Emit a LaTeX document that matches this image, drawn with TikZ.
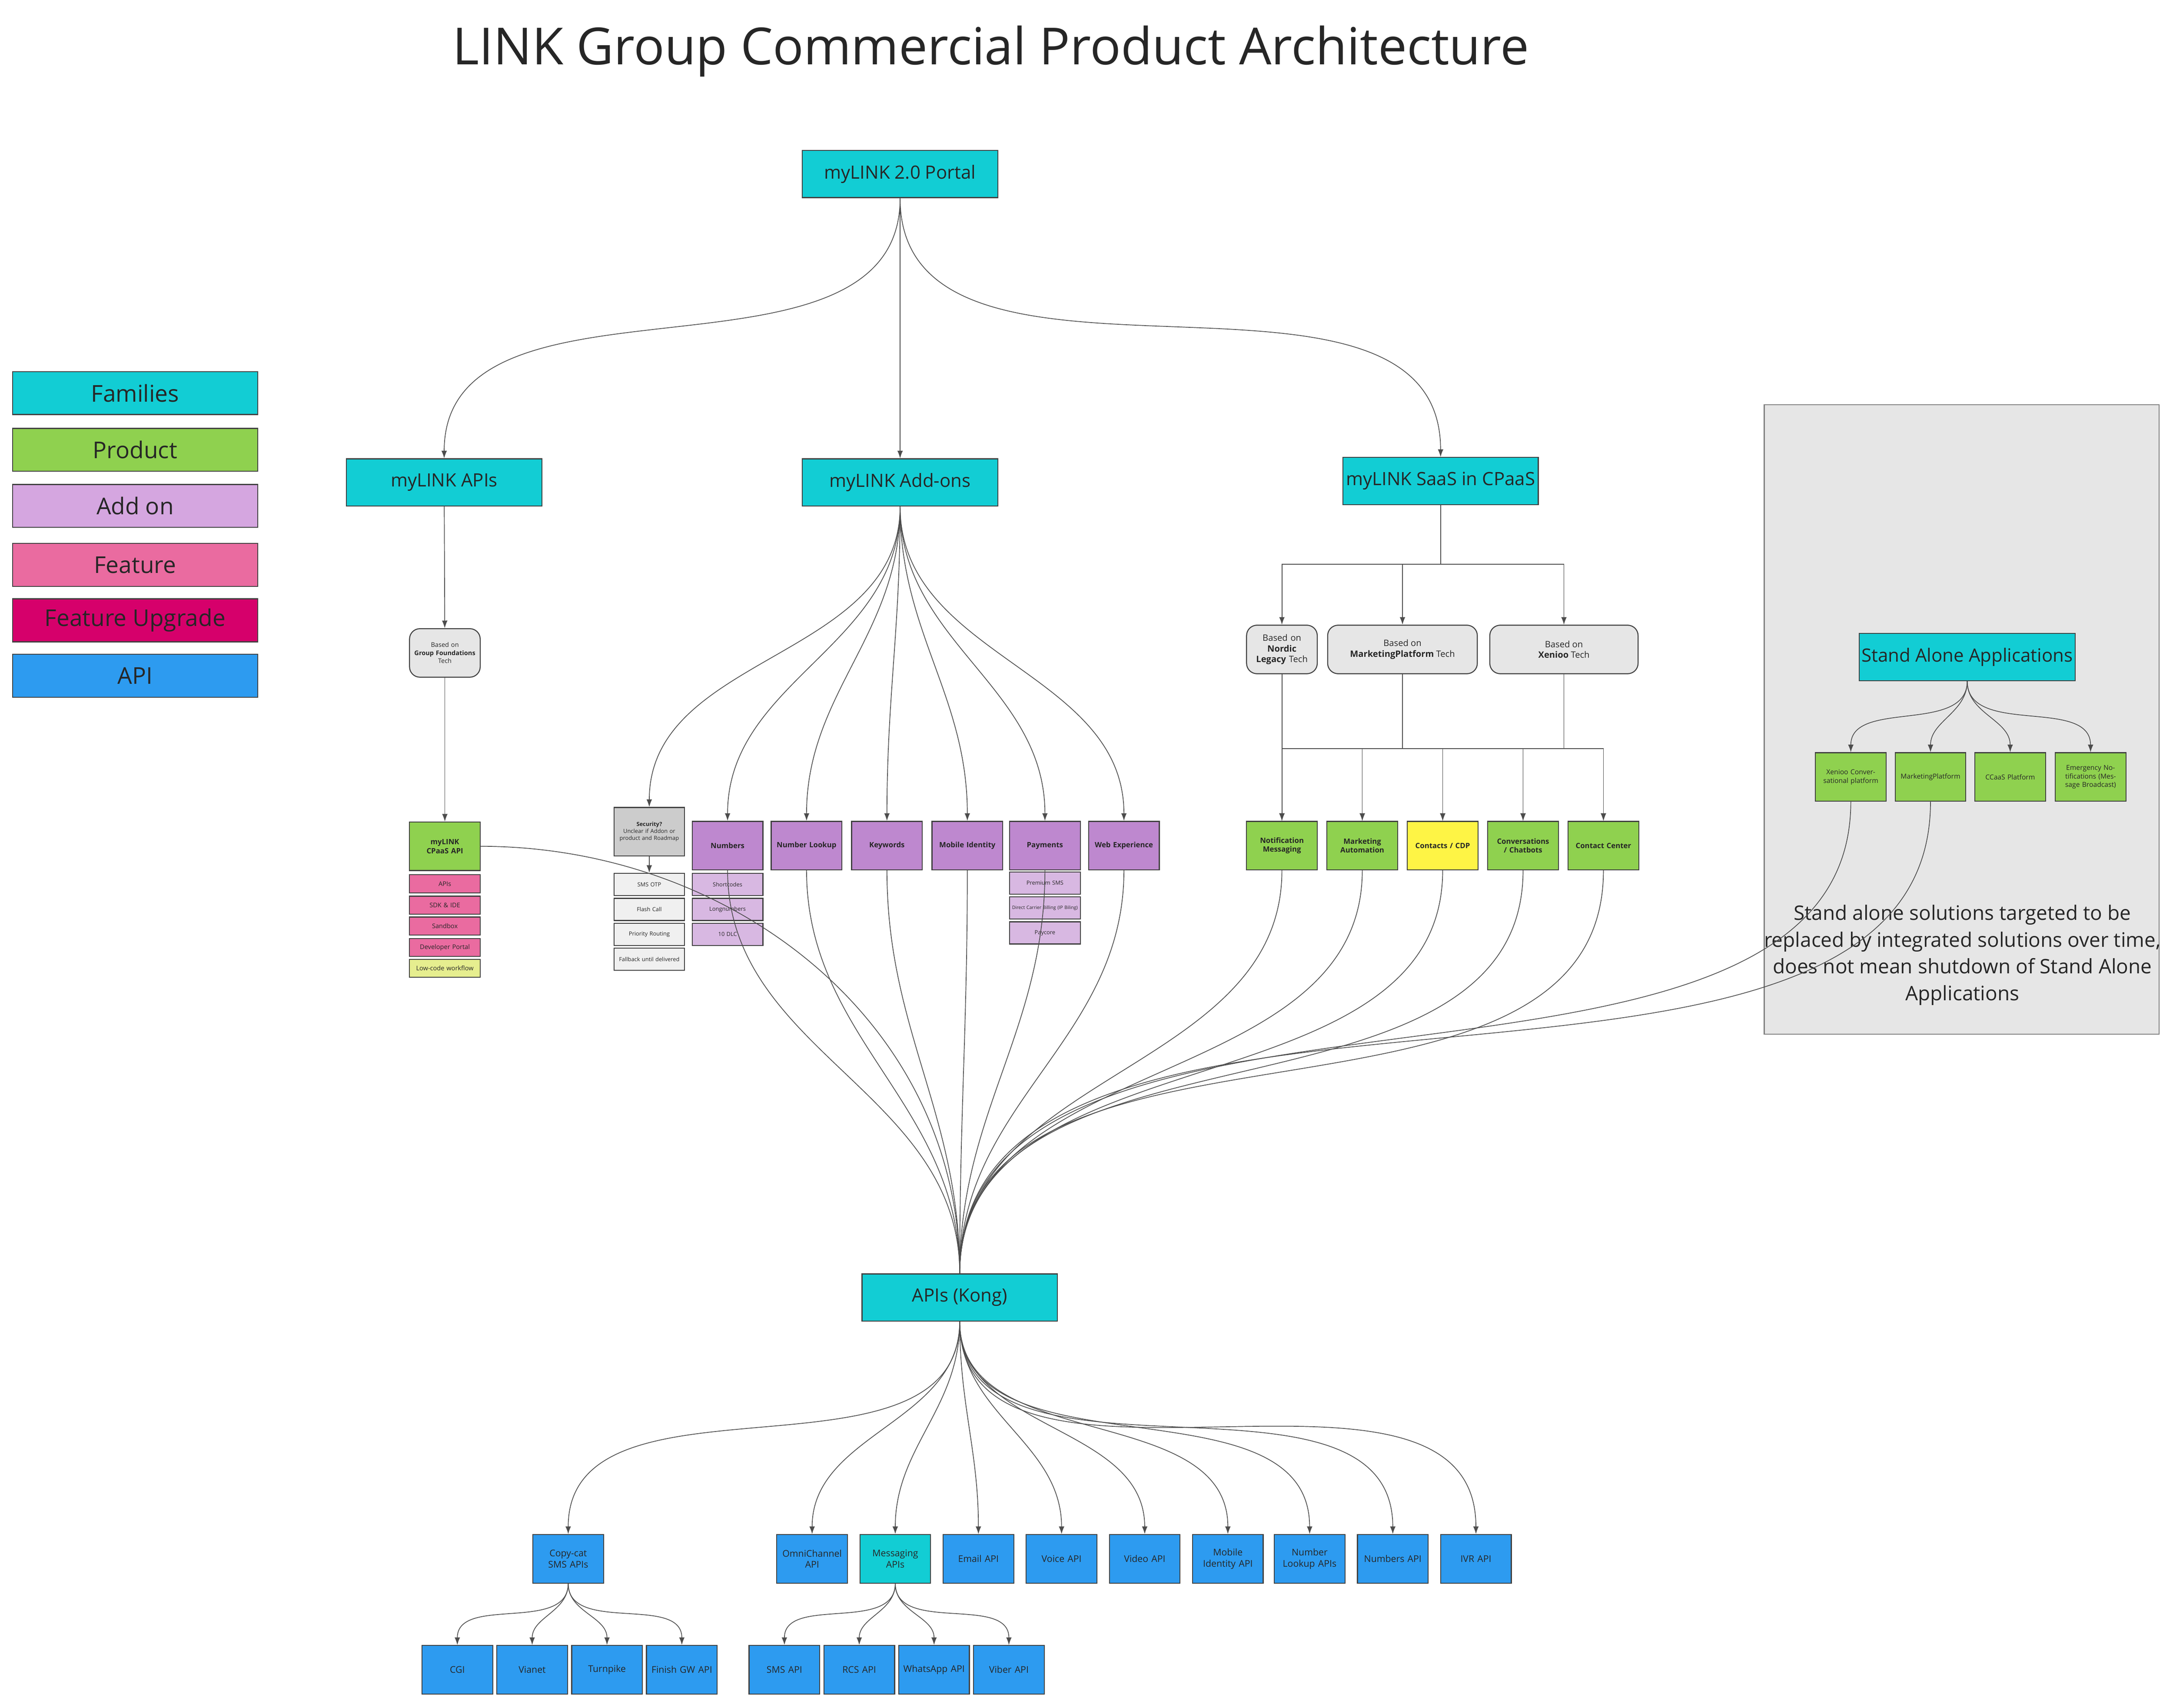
\documentclass[tikz,border=0pt]{standalone}
\usepackage{fontspec}
\setmainfont{Open Sans}
\usepackage{xcolor}
\usepackage{tikz}
\usetikzlibrary{arrows.meta, positioning}

\definecolor{famc}{HTML}{12CDD4}
\definecolor{prodc}{HTML}{8FD14F}
\definecolor{addc}{HTML}{D5A6E0}
\definecolor{purpc}{HTML}{BE88CF}
\definecolor{subpc}{HTML}{D8B8E2}
\definecolor{featc}{HTML}{EA6BA0}
\definecolor{upgc}{HTML}{D6006B}
\definecolor{apic}{HTML}{2D9BF0}
\definecolor{yelc}{HTML}{FEF445}
\definecolor{lowc}{HTML}{E6EE8F}
\definecolor{grayb}{HTML}{E6E6E6}
\definecolor{secc}{HTML}{CCCCCC}
\definecolor{subg}{HTML}{F0F0F0}

\begin{document}
\begin{tikzpicture}[x=0.02cm, y=-0.02cm, >=latex, font=\fontsize{7.5}{9}\selectfont]
		\tikzstyle{box} = [draw=black!75, line width=0.4pt, inner sep=1pt, align=center, text=black!85]
		\tikzstyle{fam} = [box, fill=famc, minimum width=2.82cm, minimum height=0.68cm]
		\tikzstyle{leg} = [box, minimum width=3.54cm, minimum height=0.62cm, font=\fontsize{9.5}{11}\selectfont]
		\tikzstyle{sq} = [box, minimum width=1cm, minimum height=0.7cm, text width=0.95cm, font=\fontsize{3}{3.7}\selectfont\bfseries]
		\tikzstyle{prod} = [sq, fill=prodc]
		\tikzstyle{addon} = [sq, fill=purpc]
		\tikzstyle{sub} = [box, minimum width=1cm, minimum height=0.32cm, text width=0.95cm, font=\fontsize{2.3}{2.8}\selectfont]
		\tikzstyle{feat} = [sub, fill=featc, minimum height=0.26cm, font=\fontsize{2.6}{3}\selectfont]
		\tikzstyle{solo} = [sq, fill=prodc, font=\fontsize{2.8}{3.5}\selectfont]
		\tikzstyle{api} = [box, fill=apic, minimum width=1cm, minimum height=0.7cm, text width=0.95cm, font=\fontsize{3.8}{4.6}\selectfont]
		\tikzstyle{based} = [box, rounded corners=0.15cm, fill=grayb, minimum height=0.7cm, font=\fontsize{3.6}{4.4}\selectfont]
		\tikzstyle{link} = [draw=black!70, line width=0.3pt]
		\tikzstyle{arrow} = [link, ->, >={Latex[length=1.1mm,width=0.8mm]}]

		\useasboundingbox (0,0) rectangle (1568,1232);

		% stand alone panel
		\node[draw=black!50, fill=grayb, minimum width=5.7cm, minimum height=9.08cm] at (1415.5,519) (panel) {};

		\node[font=\fontsize{21}{25}\selectfont, text=black!85] at (715,37) (title) {LINK Group Commercial Product Architecture};

		% legend
		\node[leg, fill=famc]	at (97.5,283.5) (lfam)	{Families};
		\node[leg, fill=prodc]	at (97.5,324.5) (lprod)	{Product};
		\node[leg, fill=addc]	at (97.5,365)	(ladd)	{Add on};
		\node[leg, fill=featc]	at (97.5,407.5) (lfeat)	{Feature};
		\node[leg, fill=upgc]	at (97.5,447.5) (lupg)	{Feature Upgrade};
		\node[leg, fill=apic]	at (97.5,487.5) (lapi)	{API};

		% families
		\node[fam] at (649.5,125.5)	(portal)	{myLINK 2.0 Portal};
		\node[fam] at (320.5,348)	(apis)		{myLINK APIs};
		\node[fam] at (649.5,348)	(addons)	{myLINK Add-ons};
		\node[fam] at (1039.5,347)	(saas)		{myLINK SaaS in CPaaS};
		\node[fam] at (692.5,936)	(kong)		{APIs (Kong)};
		\node[fam, minimum width=3.02cm] at (1419.5,474) (alone) {Stand Alone Applications};

		\draw [arrow] (portal.south) to[out=-90,in=90] (apis.north);
		\draw [arrow] (portal.south) -- (addons.north);
		\draw [arrow] (portal.south) to[out=-90,in=90] (saas.north);

		% myLINK APIs column
		\node[based, minimum width=1cm, text width=0.95cm, font=\fontsize{2.6}{3.3}\selectfont] at (321,471) (group) {Based on\\\textbf{Group Foundations}\\Tech};
		\node[prod]	at (321,610.5)	(cpaas)	{myLINK CPaaS API};
		\node[feat]	at (321,637.5)	(f1)	{APIs};
		\node[feat]	at (321,653)	(f2)	{SDK \& IDE};
		\node[feat]	at (321,668)	(f3)	{Sandbox};
		\node[feat]	at (321,683.5)	(f4)	{Developer Portal};
		\node[feat, fill=lowc] at (321,698.5) (f5) {Low-code workflow};
		\draw [arrow] (apis) -- (group);
		\draw [arrow] (group) -- (cpaas);

		% add-ons column
		\node[sq, fill=secc, font=\fontsize{2.3}{2.9}\selectfont] at (468.5,600) (sec) {\textbf{Security?}\\Unclear if Addon or product and Roadmap};
		\node[sub, fill=subg] at (468.5,638) (s1) {SMS OTP};
		\node[sub, fill=subg] at (468.5,656) (s2) {Flash Call};
		\node[sub, fill=subg] at (468.5,674) (s3) {Priority Routing};
		\node[sub, fill=subg] at (468.5,692) (s4) {Fallback until delivered};
		\draw [arrow] (sec) -- (s1);

		\node[addon] at (525,610)	(num)	{Numbers};
		\node[addon] at (582,610)	(nlk)	{Number Lookup};
		\node[addon] at (640,610)	(kw)	{Keywords};
		\node[addon] at (698,610)	(mid)	{Mobile Identity};
		\node[addon] at (754,610)	(pay)	{Payments};
		\node[addon] at (811,610)	(web)	{Web Experience};
		\node[sub, fill=subpc] at (525,638) (n1) {Shortcodes};
		\node[sub, fill=subpc] at (525,656) (n2) {Longnumbers};
		\node[sub, fill=subpc] at (525,674) (n3) {10 DLC};
		\node[sub, fill=subpc] at (754,637) (p1) {Premium SMS};
		\node[sub, fill=subpc, font=\fontsize{1.9}{2.3}\selectfont] at (754,655) (p2) {Direct Carrier Billing (IP Biling)};
		\node[sub, fill=subpc] at (754,673) (p3) {Paycore};

		\foreach \n in {sec,num,nlk,kw,mid,pay,web}
			\draw [arrow] (addons.south) to[out=-90,in=90] (\n.north);

		% SaaS column
		\node[based, minimum width=1cm, text width=0.95cm] at (925,468.5) (nordic) {Based on\\\textbf{Nordic}\\\textbf{Legacy} Tech};
		\node[based, minimum width=2.16cm] at (1012,468.5) (mkt) {Based on\\\textbf{MarketingPlatform} Tech};
		\node[based, minimum width=2.14cm] at (1128.5,468.5) (xen) {Based on\\\textbf{Xenioo} Tech};
		\coordinate (bar1) at (1039.5,407);
		\foreach \n in {nordic,mkt,xen}
			\draw [arrow] (saas.south) -- (saas.south |- bar1) -| (\n.north);

		\node[prod] at (925,610)	(notif)	{Notification Messaging};
		\node[prod] at (983,610)	(mauto)	{Marketing Automation};
		\node[prod, fill=yelc] at (1041,610) (cdp) {Contacts / CDP};
		\node[prod] at (1099,610)	(conv)	{Conversations / Chatbots};
		\node[prod] at (1157,610)	(cc)	{Contact Center};
		\coordinate (bar2) at (1041,540);
		\draw [arrow] (nordic) -- (notif);
		\foreach \n in {notif,mauto,cdp,conv,cc} {
			\draw [arrow] (mkt.south) -- (mkt.south |- bar2) -| (\n.north);
			\draw [arrow] (xen.south) -- (xen.south |- bar2) -| (\n.north);
		}

		% stand alone applications
		\node[solo] at (1335.5,560.5)	(xconv)	{Xenioo Conversational platform};
		\node[solo] at (1393,560.5)		(mplat)	{MarketingPlatform};
		\node[solo] at (1450.5,560.5)	(ccaas)	{CCaaS Platform};
		\node[solo] at (1508.5,560.5)	(emerg)	{Emergency Notifications (Message Broadcast)};
		\foreach \n in {xconv,mplat,ccaas,emerg}
			\draw [arrow] (alone.south) to[out=-90,in=90] (\n.north);
		\node[align=center, font=\fontsize{8.2}{11}\selectfont, text=black!85] at (1416,689) (note) {Stand alone solutions targeted to be\\replaced by integrated solutions over time,\\does not mean shutdown of Stand Alone\\Applications};

		% everything into Kong
		\draw [link] (cpaas.east) to[out=0,in=90] (kong.north);
		\foreach \n in {num,nlk,kw,mid,pay,web,notif,mauto,cdp,conv,cc}
			\draw [link] (\n.south) to[out=-90,in=90] (kong.north);
		\foreach \n in {xconv,mplat}
			\draw [link] (\n.south) to[out=-90,in=90, looseness=0.9] (kong.north);

		% API row
		\node[api] at (410,1124.5)	(copy)	{Copy-cat\\SMS APIs};
		\node[api] at (586,1124.5)	(omni)	{OmniChannel API};
		\node[api, fill=famc] at (646,1124.5) (msg) {Messaging APIs};
		\node[api] at (706,1124.5)	(email)	{Email API};
		\node[api] at (766,1124.5)	(voice)	{Voice API};
		\node[api] at (826,1124.5)	(video)	{Video API};
		\node[api] at (886,1124.5)	(mida)	{Mobile Identity API};
		\node[api] at (945,1124.5)	(nlka)	{Number Lookup APIs};
		\node[api] at (1005,1124.5)	(numa)	{Numbers API};
		\node[api] at (1065,1124.5)	(ivr)	{IVR API};
		\foreach \n in {copy,omni,msg,email,voice,video,mida,nlka,numa,ivr}
			\draw [arrow] (kong.south) to[out=-90,in=90] (\n.north);

		\node[api] at (330,1204.5)	(cgi)	{CGI};
		\node[api] at (384,1204.5)	(vianet)	{Vianet};
		\node[api] at (438,1204.5)	(turn)	{Turnpike};
		\node[api] at (492,1204.5)	(finish)	{Finish GW API};
		\node[api] at (566,1204.5)	(sms)	{SMS API};
		\node[api] at (620,1204.5)	(rcs)	{RCS API};
		\node[api] at (674,1204.5)	(wa)	{WhatsApp API};
		\node[api] at (728,1204.5)	(viber)	{Viber API};
		\foreach \n in {cgi,vianet,turn,finish}
			\draw [arrow] (copy.south) to[out=-90,in=90] (\n.north);
		\foreach \n in {sms,rcs,wa,viber}
			\draw [arrow] (msg.south) to[out=-90,in=90] (\n.north);
	\end{tikzpicture}
\end{document}
